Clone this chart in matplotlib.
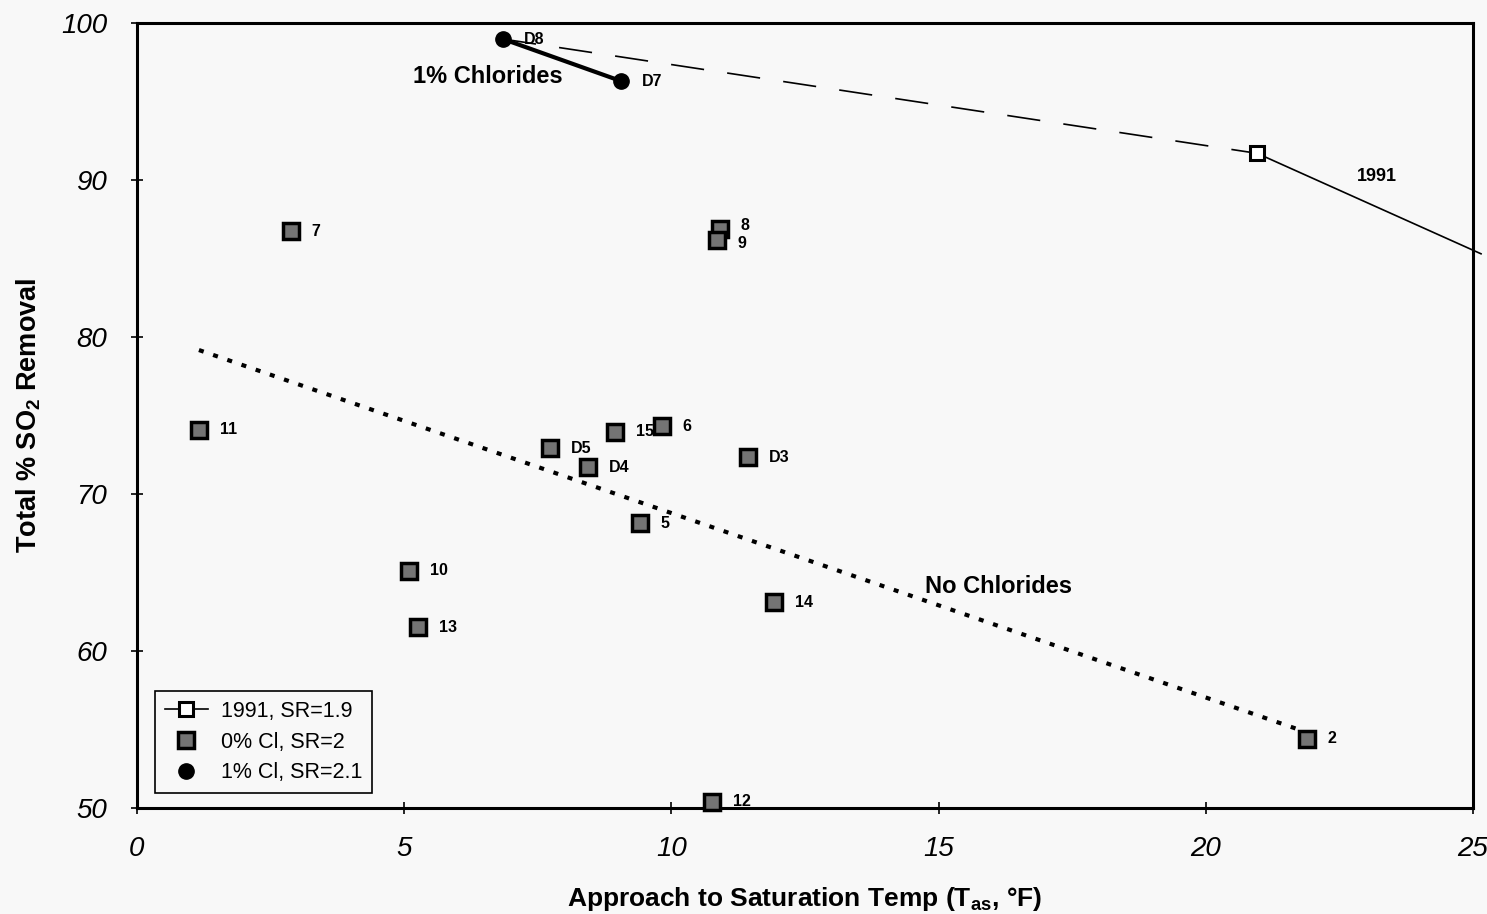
import matplotlib
matplotlib.use("Agg")
import matplotlib.pyplot as plt
from matplotlib.lines import Line2D

plt.rcParams['font.family'] = ['Liberation Sans', 'DejaVu Sans']
plt.rcParams['mathtext.fontset'] = 'custom'
plt.rcParams['mathtext.rm'] = 'Liberation Sans:bold'
plt.rcParams['mathtext.bf'] = 'Liberation Sans:bold'

# 0% chloride runs, SR=2
cl0_labels = ["7", "11", "8", "9", "D5", "15", "6", "D4", "D3", "5", "10", "13", "14", "2", "12"]
cl0_x = [2.88, 1.16, 10.91, 10.85, 7.73, 8.94, 9.82, 8.44, 11.43, 9.41, 5.09, 5.26, 11.92, 21.89, 10.76]
cl0_y = [86.75, 74.1, 86.9, 86.2, 72.9, 73.95, 74.3, 71.7, 72.35, 68.15, 65.1, 61.5, 63.1, 54.4, 50.4]

# 1% chloride runs, SR=2.1
cl1_labels = ["D8", "D7"]
cl1_x = [6.85, 9.06]
cl1_y = [98.98, 96.3]

# 1991 baseline, SR=1.9
y1991_x = [20.96]
y1991_y = [91.7]
y1991_trend_x = [20.96, 25.15]
y1991_trend_y = [91.7, 85.3]

# Dashed link from the 1% chloride runs to the 1991 point
link_x = [6.85, 20.96]
link_y = [98.98, 91.7]

# Trend line through the no-chloride runs
nocl_x = [1.16, 21.76]
nocl_y = [79.17, 54.97]

fig = plt.figure(figsize=(14.87, 9.14), dpi=100, facecolor='#f8f8f8')
ax = fig.add_axes([0.0921, 0.116, 0.8985, 0.8588], facecolor='#f8f8f8')

ax.plot(nocl_x, nocl_y, color='black', lw=3.0, linestyle=(0, (1.2, 2.4)), zorder=2)
ax.plot(link_x, link_y, color='black', lw=1.2, linestyle=(0, (20, 14)), zorder=2)
ax.plot(y1991_trend_x, y1991_trend_y, color='black', lw=1.2, zorder=2, clip_on=False)
ax.plot(cl1_x, cl1_y, color='black', lw=3.0, zorder=3)

ax.plot(cl0_x, cl0_y, linestyle='none', marker='s', ms=11, mfc='#747474',
        mec='black', mew=2.5, zorder=4, clip_on=False)
ax.plot(cl1_x, cl1_y, linestyle='none', marker='o', ms=11, mfc='black',
        mec='black', zorder=4)
ax.plot(y1991_x, y1991_y, linestyle='none', marker='s', ms=9.5, mfc='white',
        mec='black', mew=2.2, zorder=4)

label_offsets = {"8": (15, 2), "9": (15, -3)}
for lab, x, y in zip(cl0_labels + cl1_labels, cl0_x + cl1_x, cl0_y + cl1_y):
    dx, dy = label_offsets.get(lab, (15, 0))
    ax.annotate(lab, (x, y), xytext=(dx, dy), textcoords='offset points',
                ha='left', va='center', fontsize=11.5, fontweight='bold', zorder=5)

ax.text(6.57, 96.6, "1% Chlorides", fontsize=17, fontweight='bold', ha='center', va='center')
ax.text(16.13, 64.1, "No Chlorides", fontsize=17, fontweight='bold', ha='center', va='center')
ax.text(23.2, 90.2, "1991", fontsize=13, fontweight='bold', ha='center', va='center')

ax.set_xlim(0, 25)
ax.set_ylim(50, 100)
ax.set_xticks([0, 5, 10, 15, 20, 25])
ax.set_yticks([50, 60, 70, 80, 90, 100])
ax.tick_params(direction='inout', length=9, width=1.2, labelsize=20)
ax.tick_params(axis='x', pad=16)
ax.tick_params(axis='y', pad=17)
for lab in ax.get_xticklabels() + ax.get_yticklabels():
    lab.set_fontstyle('italic')
for s in ax.spines.values():
    s.set_linewidth(2.2)

ax.set_xlabel(r"Approach to Saturation Temp (T$_\mathbf{as}$, °F)", fontsize=19,
              fontweight='bold', labelpad=16)
ax.set_ylabel(r"Total % SO$_\mathbf{2}$ Removal", fontsize=19.5, fontweight='bold',
              labelpad=13)

handles = [
    Line2D([], [], color='black', lw=1.2, marker='s', ms=9.5, mfc='white', mec='black', mew=2.2),
    Line2D([], [], linestyle='none', marker='s', ms=11, mfc='#747474', mec='black', mew=2.5),
    Line2D([], [], linestyle='none', marker='o', ms=11, mfc='black', mec='black'),
]
leg = ax.legend(handles, ["1991, SR=1.9", "0% Cl, SR=2", "1% Cl, SR=2.1"],
                loc='lower left', bbox_to_anchor=(0.0135, 0.019), fontsize=15.5,
                frameon=True, fancybox=False, handlelength=2.0, handletextpad=0.6,
                borderpad=0.45, labelspacing=0.45, borderaxespad=0)
leg.get_frame().set_edgecolor('black')
leg.get_frame().set_linewidth(1.2)
leg.get_frame().set_facecolor('#f8f8f8')
leg.get_frame().set_alpha(1)

fig.savefig("out.png", dpi=100, facecolor=fig.get_facecolor())
